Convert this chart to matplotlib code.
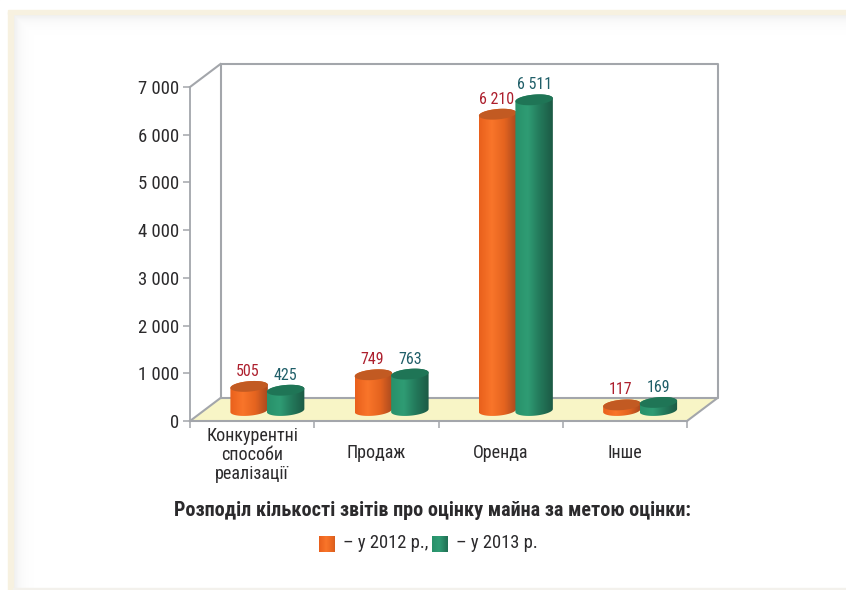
import numpy as np
import matplotlib
matplotlib.use('Agg')
import matplotlib.pyplot as plt
from matplotlib import font_manager as fm
from matplotlib.colors import LinearSegmentedColormap
from matplotlib.patches import Polygon, Rectangle

categories = ['Конкурентні\nспособи\nреалізації', 'Продаж', 'Оренда', 'Інше']
values_2012 = [505, 749, 6210, 117]
values_2013 = [425, 763, 6511, 169]
y_ticks = [0, 1000, 2000, 3000, 4000, 5000, 6000, 7000]
y_tick_labels = ['0', '1 000', '2 000', '3 000', '4 000', '5 000', '6 000', '7 000']

# narrow face if the machine has one, otherwise the plain sans
installed = {f.name for f in fm.fontManager.ttflist}
wanted = ['Roboto Condensed', 'PT Sans Narrow', 'Fira Sans Condensed', 'Sofia Sans Condensed', 'Liberation Sans', 'DejaVu Sans']
plt.rcParams['font.family'] = [f for f in wanted if f in installed]

W, H = 846, 590
GREY = '#a3a6ab'
TEXT = '#2b2a2c'
orange_map = LinearSegmentedColormap.from_list('o', ['#e9601c', '#f9752a', '#e5641f', '#a94a20'])
green_map = LinearSegmentedColormap.from_list('g', ['#28916a', '#2f9c74', '#23785a', '#1c5a45'])

fig = plt.figure(figsize=(W / 100, H / 100), dpi=100, facecolor='white')

# page decoration: cream border with a soft inner shadow
bg = fig.add_axes([0, 0, 1, 1])
bg.set_xlim(0, W)
bg.set_ylim(H, 0)
bg.axis('off')
xx, yy = np.meshgrid(np.arange(W), np.arange(H))
dist = np.minimum(np.clip(xx - 13, 0, None), np.clip(yy - 14, 0, None))
shade = 1 - 0.07 * np.exp(-dist / 7.0)
bg.imshow(shade, extent=(0, W, H, 0), cmap='gray', vmin=0, vmax=1, aspect='auto', zorder=0)
bg.add_patch(Rectangle((0, 0), W, 10, color='white', zorder=1))
bg.add_patch(Rectangle((0, 0), 8, H, color='white', zorder=1))
bg.add_patch(Rectangle((8, 10), W, 4, color='#f7f1e0', zorder=2))
bg.add_patch(Rectangle((8, 12), 5, H, color='#f7f1e0', zorder=2))
bg.add_patch(Rectangle((13, 588), W, 2, color='#f3f1ec', zorder=2))

# main axes is the front plane of the box
left, right, bottom, top = 190, 687, 421, 87
ax = fig.add_axes([left / W, 1 - bottom / H, (right - left) / W, (bottom - top) / H])
ax.patch.set_alpha(0)
ax.set_xlim(0, 4)
ax.set_ylim(0, 7000)
px = 4 / (right - left)
py = 7000 / (bottom - top)
dx, dy = 30.5 * px, 23 * py

for s in ['top', 'right']:
    ax.spines[s].set_visible(False)
for s in ['left', 'bottom']:
    ax.spines[s].set_color(GREY)
    ax.spines[s].set_linewidth(1.3)
ax.set_yticks(y_ticks, y_tick_labels, fontsize=13.5, color=TEXT)
ax.set_xticks(range(5), [''] * 5)
ax.tick_params(colors=GREY, length=5, width=1.1, labelcolor=TEXT, pad=3)

# floor and back wall
ax.add_patch(Polygon([(0, 0), (4, 0), (4 + dx, dy), (dx, dy)], closed=True, fc='#f8f5c6', ec='none', zorder=1, clip_on=False))
wall = dict(color=GREY, lw=1.5, zorder=2, clip_on=False)
ax.plot([dx, 4 + dx, 4 + dx, dx, dx], [dy, dy, 7000 + dy, 7000 + dy, dy], **wall)
ax.plot([0, dx], [0, dy], **wall)
ax.plot([0, dx], [7000, 7000 + dy], **wall)
ax.plot([4, 4 + dx], [0, dy], **wall)
ax.plot([0, 4], [0, 0], **wall)


def cylinder(cx, value, cmap, top_color, z):
    # widths in pixels, converted to data units, ellipse leans up to the right
    a, b, tilt = 18.8, 5.2, np.radians(5)
    base = 10.5 * py

    def ell(t, v):
        ex = a * np.cos(t) * np.cos(tilt) - b * np.sin(t) * np.sin(tilt)
        ey = a * np.cos(t) * np.sin(tilt) + b * np.sin(t) * np.cos(tilt)
        return np.column_stack([cx + ex * px, v + ey * py])

    low = ell(np.linspace(np.pi, 2 * np.pi, 40), base)
    up = ell(np.linspace(0, np.pi, 40), base + value)
    body = Polygon(np.vstack([low, up]), closed=True, fc='none', ec='none', transform=ax.transData)
    ax.add_patch(body)
    grad = np.linspace(0, 1, 64).reshape(1, -1)
    im = ax.imshow(grad, cmap=cmap, aspect='auto', zorder=z, clip_on=True,
                   extent=(cx - a * px, cx + a * px, 0, base + value + 10 * py))
    im.set_clip_path(body)
    ax.add_patch(Polygon(ell(np.linspace(0, 2 * np.pi, 60), base + value), closed=True,
                         fc=top_color, ec='none', zorder=z + 0.1, clip_on=False))


for i, name in enumerate(categories):
    center = i + 0.5 + 15 * px
    cylinder(center - 18 * px, values_2012[i], orange_map, '#c25a22', 3 + i)
    cylinder(center + 18.5 * px, values_2013[i], green_map, '#1f7556', 3.5 + i)
    ax.text(center - 18 * px - 1 * px, values_2012[i] + 10.5 * py + 15 * py, f'{values_2012[i]:,}'.replace(',', ' '),
            color='#ad1f2d', fontsize=11.5, ha='center', va='center', zorder=10)
    ax.text(center + 18.5 * px, values_2013[i] + 10.5 * py + 15 * py, f'{values_2013[i]:,}'.replace(',', ' '),
            color='#1f5e68', fontsize=11.5, ha='center', va='center', zorder=10)
    drop = 34 if '\n' in name else 32
    ax.text(i + 0.5, -drop * py, name, color=TEXT, fontsize=13, ha='center', va='center',
            linespacing=1.1, clip_on=False)

ax.set_xlim(0, 4)
ax.set_ylim(0, 7000)

fig.text(432 / W, 1 - 510 / H, 'Розподіл кількості звітів про оцінку майна за метою оцінки:',
         fontsize=14.5, fontweight='bold', color=TEXT, ha='center', va='center')

# legend drawn by hand to keep the inline layout
swatch = np.linspace(0, 0.75, 32).reshape(1, -1)
bg.imshow(swatch, cmap=orange_map, vmin=0, vmax=1, extent=(319, 335, 552, 536), aspect='auto', zorder=3)
bg.imshow(swatch, cmap=green_map, vmin=0, vmax=1, extent=(432, 448, 552, 536), aspect='auto', zorder=3)
bg.set_xlim(0, W)
bg.set_ylim(H, 0)
bg.text(343, 543, '– у 2012 р.,', fontsize=13.3, color=TEXT, va='center', ha='left', zorder=3)
bg.text(456, 543, '– у 2013 р.', fontsize=13.3, color=TEXT, va='center', ha='left', zorder=3)

fig.savefig('out.png', dpi=100)
